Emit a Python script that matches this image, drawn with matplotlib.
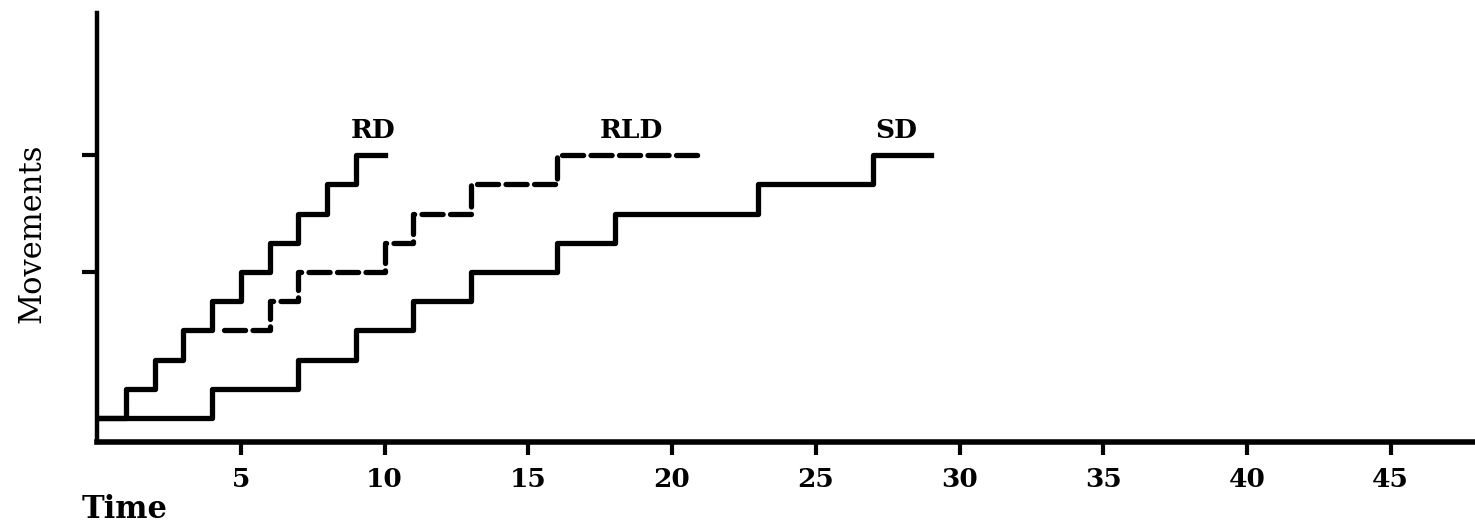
import matplotlib
matplotlib.use("Agg")
import matplotlib.pyplot as plt

# step curves: times where a new movement starts, and movement count
rd_time = [0, 1, 2, 3, 4, 5, 6, 7, 8, 9, 10]
rd_moves = [0, 1, 2, 3, 4, 5, 6, 7, 8, 9, 9]

rld_time = [4.4, 6, 7, 10, 11, 13, 16, 21]
rld_moves = [3, 4, 5, 6, 7, 8, 9, 9]

sd_time = [0, 4, 7, 9, 11, 13, 16, 18, 23, 27, 29]
sd_moves = [0, 1, 2, 3, 4, 5, 6, 7, 8, 9, 9]

x_ticks = [5, 10, 15, 20, 25, 30, 35, 40, 45]
y_ticks = [5, 9]

W, H = 1475, 527
font = "DejaVu Serif"

fig = plt.figure(figsize=(W / 100, H / 100), dpi=100)
ax = fig.add_axes([97 / W, (H - 442) / H, (W - 97) / W, (442 - 13) / H])

lw = 3.8
ax.step(rd_time, rd_moves, where="post", color="black", lw=lw)
ax.step(sd_time, sd_moves, where="post", color="black", lw=lw)
ax.step(rld_time, rld_moves, where="post", color="black", lw=lw,
        dashes=(4.0, 1.4), dash_capstyle="round")

ax.set_xlim(0, (W - 97) / 28.75)
ax.set_ylim(-24 / 29.2, (418 - 13) / 29.2)

for s in ["top", "right"]:
    ax.spines[s].set_visible(False)
ax.spines["left"].set_linewidth(3.2)
ax.spines["bottom"].set_linewidth(4)

ax.set_xticks(x_ticks)
ax.set_xticklabels([str(v) for v in x_ticks], family=font, weight="bold", fontsize=19)
ax.tick_params(axis="x", direction="out", length=9, width=3, pad=9)
ax.set_yticks(y_ticks)
ax.set_yticklabels([])
ax.tick_params(axis="y", direction="out", length=11, width=3)

# curve names
ax.text(9.6, 9.85, "RD", family=font, weight="bold", fontsize=19, ha="center", va="center")
ax.text(18.6, 9.85, "RLD", family=font, weight="bold", fontsize=19, ha="center", va="center")
ax.text(27.8, 9.85, "SD", family=font, weight="bold", fontsize=19, ha="center", va="center")

fig.text(82 / W, 1 - 510 / H, "Time", family=font, weight="bold", fontsize=22,
         ha="left", va="center")
fig.text(32 / W, 1 - 233 / H, "Movements", family=font, fontsize=22,
         rotation=90, ha="center", va="center")

fig.savefig("out.png", dpi=100)
